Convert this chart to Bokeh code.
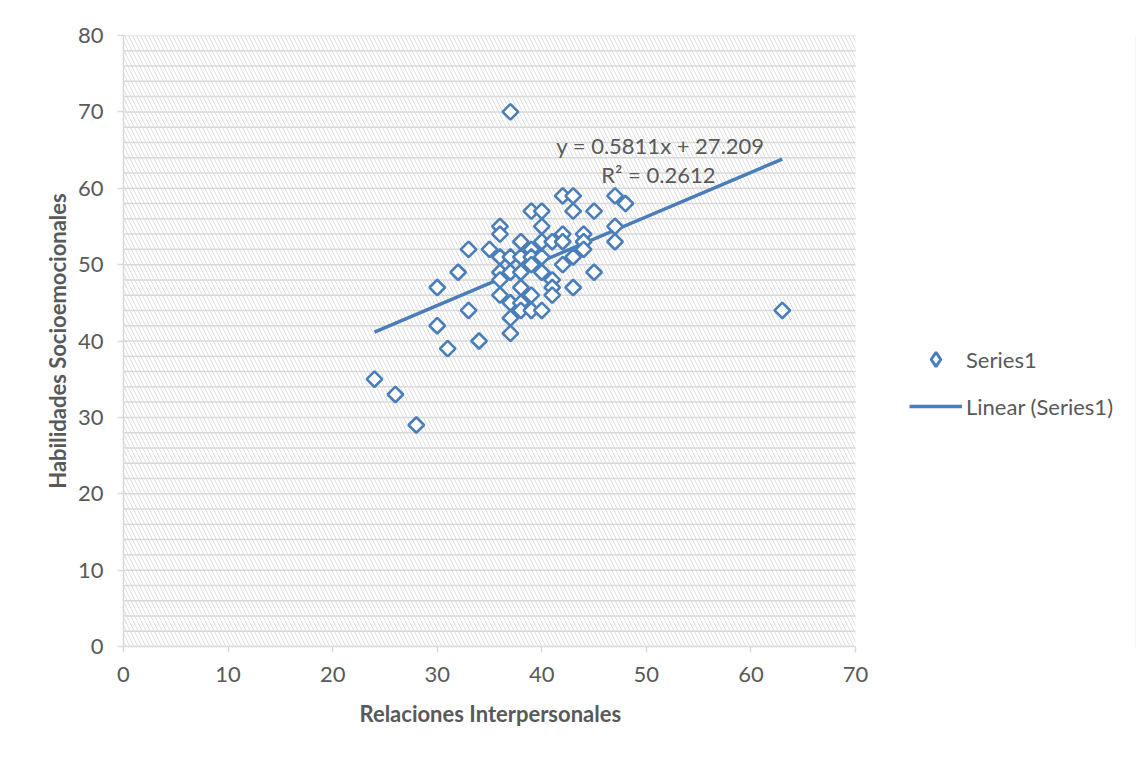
from bokeh.plotting import figure
from bokeh.models import (Legend, LegendItem, Label, BoxAnnotation, FixedTicker, Range1d, Title)
from bokeh.embed import file_html
from bokeh.resources import INLINE

# Data
relaciones = [24, 26, 28, 30, 30, 31, 32, 33, 33, 34, 35,
              36, 36, 36, 36, 36, 36,
              37, 37, 37, 37, 37, 37,
              38, 38, 38, 38, 38, 38,
              39, 39, 39, 39, 39, 39,
              40, 40, 40, 40, 40, 40,
              41, 41, 41, 41,
              42, 42, 42, 42,
              43, 43, 43, 43,
              44, 44, 44,
              45, 45,
              47, 47, 47, 48, 63]
habilidades = [35, 33, 29, 47, 42, 39, 49, 52, 44, 40, 52,
               55, 54, 51, 49, 48, 46,
               70, 51, 49, 45, 43, 41,
               53, 51, 49, 47, 45, 44,
               57, 52, 51, 50, 46, 44,
               57, 55, 53, 51, 49, 44,
               53, 48, 47, 46,
               59, 54, 53, 50,
               59, 57, 51, 47,
               54, 53, 52,
               57, 49,
               59, 55, 53, 58, 44]

trend_slope = 0.5811
trend_intercept = 27.209
trend_r2 = 0.2612

x_min, x_max = 0, 70
y_min, y_max = 0, 80
x_ticks = [0, 10, 20, 30, 40, 50, 60, 70]
y_ticks = [0, 10, 20, 30, 40, 50, 60, 70, 80]
y_grid_lines = list(range(2, 81, 2))

x_label = "Relaciones Interpersonales"
y_label = "Habilidades Socioemocionales"
series_name = "Series1"
trend_name = "Linear (Series1)"

BLUE = "#4A7EBB"
GREY_TXT = "#595959"
GRID = "#D9D9D9"
FONT = "Lato"

# layout: plot area 732 px wide; frame extended to the right to host the legend
W, H = 1140, 756
LEFT, TOP, BOTTOM, RIGHT = 123, 35, 110, 5
AREA_W = 732
frame_w = W - LEFT - RIGHT
x_view_max = x_max * frame_w / AREA_W

p = figure(width=W, height=H, output_backend="svg", toolbar_location=None,
           x_range=Range1d(x_min, x_view_max), y_range=Range1d(y_min, y_max),
           min_border_left=LEFT, min_border_top=TOP, min_border_bottom=BOTTOM,
           min_border_right=RIGHT,
           styles={"outline": "1.5px solid #d9d9d9", "outline-offset": "-5px"})
p.outline_line_color = None
p.background_fill_color = "white"
p.border_fill_color = "white"

# hatched plot area
hatch = BoxAnnotation(left=x_min, right=x_max, bottom=y_min, top=y_max,
                      fill_alpha=0, line_alpha=0, hatch_pattern="left_diagonal_line",
                      hatch_color="#dedede", hatch_weight=1, hatch_scale=8, level="image")
p.add_layout(hatch)

# horizontal gridlines limited to the plot area
p.xgrid.visible = False
p.ygrid.visible = False
p.segment(x0=[x_min] * len(y_grid_lines), y0=y_grid_lines,
          x1=[x_max] * len(y_grid_lines), y1=y_grid_lines,
          line_color=GRID, line_width=1.5, level="underlay")

for ax in (p.xaxis[0], p.yaxis[0]):
    ax.axis_line_color = GRID
    ax.axis_line_width = 1.5
    ax.major_tick_line_color = GRID
    ax.major_tick_line_width = 1.5
    ax.major_tick_out = 6
    ax.major_tick_in = 0
    ax.minor_tick_line_color = None
    ax.major_label_text_font = FONT
    ax.major_label_text_font_size = "22px"
    ax.major_label_text_color = GREY_TXT
    ax.major_label_standoff = 14
    ax.axis_label_text_font = FONT
    ax.axis_label_text_font_size = "22px"
    ax.axis_label_text_font_style = "bold"
    ax.axis_label_text_color = GREY_TXT

p.xaxis.ticker = FixedTicker(ticks=x_ticks)
p.yaxis.ticker = FixedTicker(ticks=y_ticks)
p.xaxis.bounds = (x_min, x_max)
p.yaxis.axis_label = y_label
p.yaxis[0].axis_label_standoff = 4

# x axis title, centred under the 0-70 plot area
xtitle = Title(text=x_label, align="left", offset=236, standoff=26,
               text_font=FONT, text_font_size="22px", text_font_style="bold",
               text_color=GREY_TXT)
p.add_layout(xtitle, "below")

# trend line
x0, x1 = min(relaciones), max(relaciones)
trend = p.line([x0, x1], [trend_slope * x0 + trend_intercept, trend_slope * x1 + trend_intercept],
               line_color=BLUE, line_width=3.4)

# scatter
pts = p.scatter(relaciones, habilidades, marker="square", angle=0.785398, size=11,
                line_color=BLUE, line_width=2.6, fill_color="white")

# legend key (no visible data, only for the legend symbol)
key = p.scatter([float("nan")], [float("nan")], marker="diamond",
                line_color=BLUE, line_width=3, fill_color="white")

# equation labels
eq = Label(x=51.35, y=65.6, text=f"y = {trend_slope}x + {trend_intercept}",
           text_align="center", text_baseline="middle", text_font=FONT,
           text_font_size="22px", text_color=GREY_TXT)
r2 = Label(x=51.15, y=61.8, text=f"R² = {trend_r2}",
           text_align="center", text_baseline="middle", text_font=FONT,
           text_font_size="22px", text_color=GREY_TXT)
p.add_layout(eq)
p.add_layout(r2)

legend = Legend(items=[LegendItem(label=series_name, renderers=[key]),
                       LegendItem(label=trend_name, renderers=[trend])],
                location=(786, 222), orientation="vertical",
                glyph_width=53, glyph_height=36, label_height=36,
                label_standoff=4, spacing=11, padding=10, margin=0,
                border_line_color=None, background_fill_alpha=0,
                label_text_font=FONT, label_text_font_size="22px",
                label_text_color=GREY_TXT)
p.add_layout(legend)

open("out.html", "w").write(file_html(p, INLINE))
